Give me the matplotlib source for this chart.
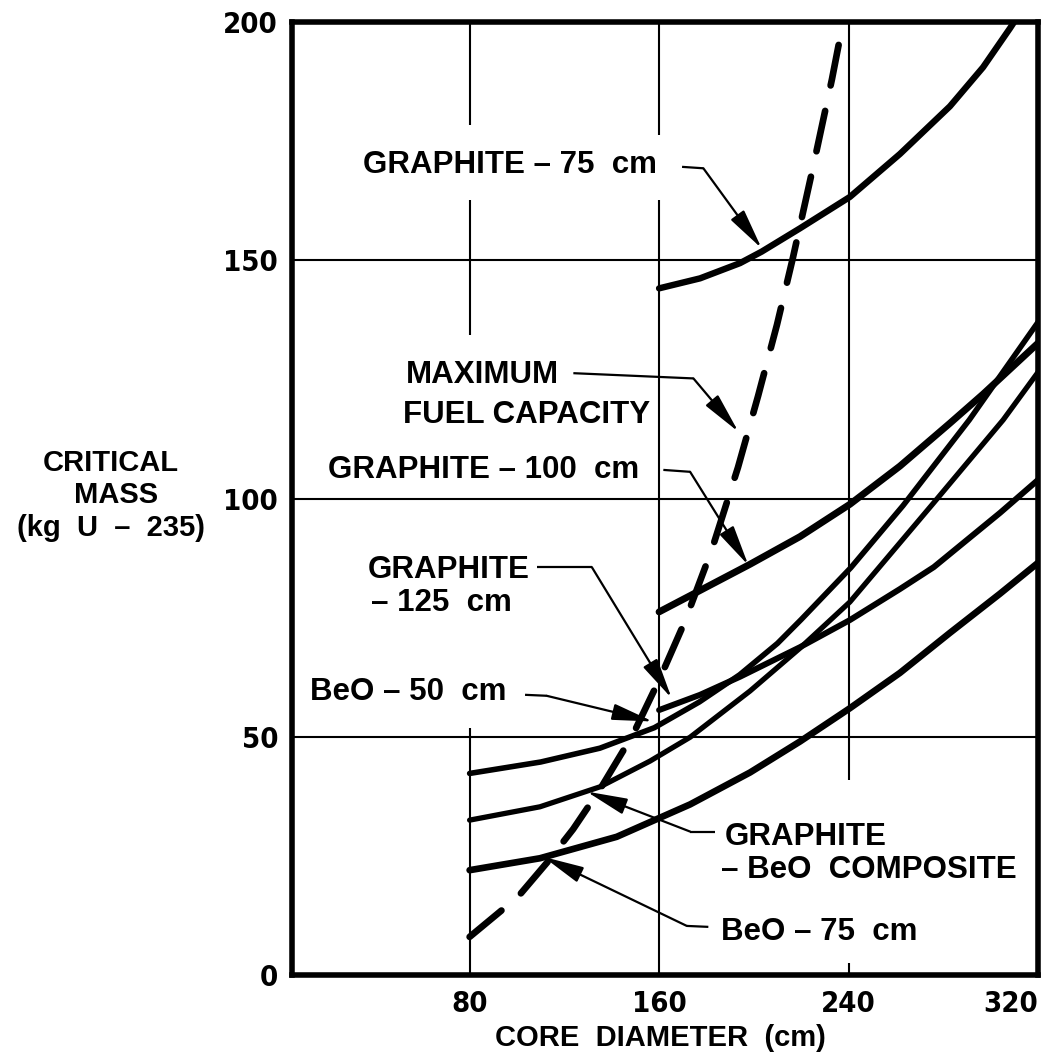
import matplotlib
matplotlib.use("Agg")
import matplotlib.pyplot as plt
from matplotlib import font_manager as fm

# ---------------- data ----------------
x_ticks = [80, 160, 240, 320]
y_ticks = [0, 50, 100, 150, 200]

graphite75_x = [160, 177.3, 194.2, 203.3, 219.5, 240.6, 261.7, 282.8, 296.8, 308.2, 309.9]
graphite75_y = [144.1, 146.2, 149.4, 151.8, 156.7, 163.3, 172.3, 182.3, 190.5, 198.7, 200.0]

graphite100_x = [160, 177.3, 198.4, 219.5, 240.6, 261.7, 282.8, 296.8, 320]
graphite100_y = [76.2, 80.7, 86.2, 92.0, 98.8, 106.8, 115.8, 121.9, 132.6]

graphite125_x = [160, 177.3, 194.2, 219.5, 240.6, 261.7, 276.0, 304.0, 320]
graphite125_y = [55.6, 58.8, 62.6, 68.8, 74.5, 81.0, 85.6, 97.0, 103.9]

beo50_x = [80, 110, 135, 158, 177, 194, 210, 220, 241, 263, 291, 320]
beo50_y = [42.3, 44.7, 47.6, 51.9, 57.3, 63.0, 69.6, 74.6, 85.5, 98.5, 116.5, 137.0]

composite_x = [80, 109.7, 135.1, 156.2, 173.1, 198.4, 219.5, 240.6, 275.8, 305.3, 320]
composite_y = [32.5, 35.3, 39.5, 44.9, 49.9, 59.6, 68.6, 78.3, 99.0, 116.5, 126.5]

beo75_x = [80, 109.7, 142.1, 173.1, 198.4, 219.5, 240.6, 261.7, 282.8, 303.9, 320]
beo75_y = [22.0, 24.5, 29.0, 35.8, 42.5, 49.0, 56.0, 63.4, 71.8, 80.0, 86.5]

maxfuel_x = [80, 100.4, 112.7, 123.7, 135.1, 149.0, 160.4, 170.9, 182.3, 193.3,
             201.8, 209.8, 216.5, 225.0, 233.0, 237.7]
maxfuel_y = [8.0, 16.4, 23.6, 30.6, 39.0, 50.5, 62.3, 74.2, 89.3, 106.5,
             121.5, 136.5, 150.5, 169.5, 188.0, 200.0]

# ---------------- fonts ----------------
names = {f.name for f in fm.fontManager.ttflist}
label_family = ['Liberation Sans', 'DejaVu Sans'] if 'Liberation Sans' in names else ['DejaVu Sans']

def _wnum(w):
    if isinstance(w, (int, float)):
        return w
    return {'bold': 700, 'semibold': 600, 'demibold': 600, 'heavy': 800,
            'extra bold': 800, 'black': 900}.get(str(w).lower(), 400)

rank = {'ultra-condensed': 0, 'extra-condensed': 1, 'condensed': 2, 'semi-condensed': 3}
cands = []
for f in fm.fontManager.ttflist:
    st = str(f.stretch).lower()
    narrow = ('narrow' in f.name.lower()) or ('condensed' in f.name.lower()) or st in rank
    if narrow and _wnum(f.weight) >= 600 and 'italic' not in str(f.style).lower() \
            and 'oblique' not in str(f.style).lower():
        cands.append((rank.get(st, 2), abs(_wnum(f.weight) - 700), f.fname))
if cands:
    cands.sort()
    tick_fp = fm.FontProperties(fname=cands[0][2], size=21)
else:
    tick_fp = fm.FontProperties(family=label_family, weight='bold', size=20)

W, H = 1042, 1057
fig = plt.figure(figsize=(W / 100, H / 100), dpi=100)
ax = fig.add_axes([292 / W, 1 - 975 / H, (1038 - 292) / W, (975 - 22) / H])
ax.set_xlim(5, 320)
ax.set_ylim(0, 200)

# ---------------- partial grid ----------------
glw = 1.5
for x0, segs in [(80, [(0, 51.8), (134.3, 162.6), (178.4, 200)]),
                 (160, [(0, 162.6), (176.3, 200)]),
                 (240, [(0, 2.5), (40.9, 200)])]:
    for a, b in segs:
        ax.plot([x0, x0], [a, b], color='black', lw=glw, zorder=1, solid_capstyle='butt')
for y0 in [50, 100, 150]:
    ax.plot([5, 320], [y0, y0], color='black', lw=glw, zorder=1, solid_capstyle='butt')

# ---------------- curves ----------------
ckw = dict(color='black', solid_capstyle='round', solid_joinstyle='round', zorder=3)
ax.plot(graphite75_x, graphite75_y, lw=4.6, **ckw)
ax.plot(graphite100_x, graphite100_y, lw=5.0, **ckw)
ax.plot(graphite125_x, graphite125_y, lw=4.3, **ckw)
ax.plot(beo50_x, beo50_y, lw=4.0, **ckw)
ax.plot(composite_x, composite_y, lw=3.8, **ckw)
ax.plot(beo75_x, beo75_y, lw=4.8, **ckw)
ax.plot(maxfuel_x, maxfuel_y, color='black', lw=4.8, dashes=(6.2, 3.9),
        dash_capstyle='round', zorder=3)

# ---------------- leaders & arrows ----------------
leaders = [
    ((169.7, 169.6), (178.7, 169.3), (203.3, 152.5)),   # graphite 75
    ((123.8, 126.3), (174.5, 125.2), (193.5, 114.0)),   # max fuel
    ((161.8, 106.0), (173.1, 105.6), (197.7, 86.0)),    # graphite 100
    ((108.3, 85.6), (131.6, 85.6), (165.3, 58.1)),      # graphite 125
    ((103.4, 58.8), (112.5, 58.6), (157.4, 53.2)),      # BeO 50
    ((183.6, 30.1), (173.1, 30.1), (129.4, 38.5)),      # composite
    ((180.8, 10.1), (171.7, 10.3), (111.1, 24.8)),      # BeO 75
]
for s, b, t in leaders:
    ax.plot([s[0], b[0]], [s[1], b[1]], color='black', lw=1.6, zorder=4,
            solid_capstyle='butt')
    ax.annotate('', xy=t, xytext=b,
                arrowprops=dict(arrowstyle='-|>,head_length=1.25,head_width=0.25',
                                color='black', lw=1.6, shrinkA=0, shrinkB=0,
                                mutation_scale=20), zorder=4)

# ---------------- annotation texts ----------------
tkw = dict(fontsize=22.5, fontweight='bold', family=label_family, ha='left',
           va='baseline', color='black')

def ftext(px, py, s, **kw):
    fig.text(px / W, 1 - py / H, s, **kw)

ftext(363, 173, 'GRAPHITE – 75  cm', **tkw)
ftext(406, 383, 'MAXIMUM', **tkw)
ftext(403, 423, 'FUEL CAPACITY', **tkw)
ftext(328, 478, 'GRAPHITE – 100  cm', **tkw)
ftext(368, 578, 'GRAPHITE', **tkw)
ftext(371, 611, '– 125  cm', **tkw)
ftext(310, 700, 'BeO – 50  cm', **tkw)
ftext(725, 845, 'GRAPHITE', **tkw)
ftext(721, 878, '– BeO  COMPOSITE', **tkw)
ftext(721, 940, 'BeO – 75  cm', **tkw)

# axis titles
akw = dict(fontsize=21, fontweight='bold', family=label_family, ha='center',
           va='baseline', color='black')
ftext(111, 471, 'CRITICAL', **akw)
ftext(116, 503, 'MASS', **akw)
ftext(111, 536, '(kg  U  –  235)', **akw)
ftext(660, 1046, 'CORE  DIAMETER  (cm)', **akw)

# ---------------- ticks & spines ----------------
ax.set_xticks(x_ticks)
ax.set_xticklabels([str(v) for v in x_ticks])
ax.set_yticks(y_ticks)
ax.set_yticklabels([str(v) for v in y_ticks])
for lab in ax.get_xticklabels() + ax.get_yticklabels():
    lab.set_fontproperties(tick_fp)
ax.get_xticklabels()[-1].set_ha('right')
ax.tick_params(axis='both', length=0)
ax.tick_params(axis='x', pad=11)
ax.tick_params(axis='y', pad=10)
for sp in ax.spines.values():
    sp.set_linewidth(4.0)
    sp.set_color('black')
ax.set_facecolor('white')
fig.patch.set_facecolor('white')

fig.savefig('out.png', dpi=100)
